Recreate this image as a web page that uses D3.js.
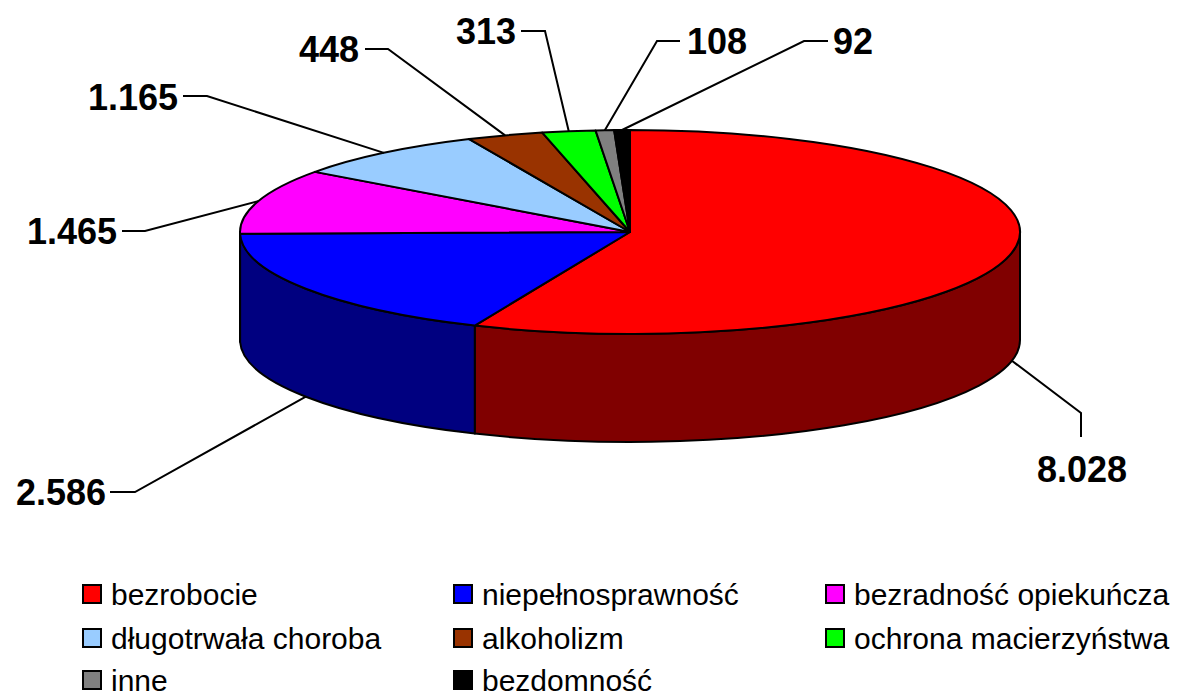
<!DOCTYPE html>
<html>
<head>
<meta charset="utf-8">
<script src="https://cdn.jsdelivr.net/npm/d3@7"></script>
<style>
  body { margin: 0; background: #fff; }
  svg { display: block; }
</style>
</head>
<body>
<svg id="chart" width="1186" height="693"></svg>
<script>
// categories and values
const categories = ["bezrobocie", "niepełnosprawność", "bezradność opiekuńcza", "długotrwała choroba",
  "alkoholizm", "ochrona macierzyństwa", "inne", "bezdomność"];
const values = [8028, 2586, 1465, 1165, 448, 313, 108, 92];
const valueLabels = ["8.028", "2.586", "1.465", "1.165", "448", "313", "108", "92"];
const colors = ["#ff0000", "#0000ff", "#ff00ff", "#99ccff", "#993300", "#00ff00", "#808080", "#000000"];

// pie geometry
const cx = 630, cy = 232, rx = 390, ry = 102, depth = 108;

// where the value labels sit (elbow of leader, end of leader, text anchor)
const labelLayout = [
  { elbow: [1081, 413], end: [1081, 437], text: [1082, 482], anchor: "middle" },
  { elbow: [135, 492], end: [110, 492], text: [106, 505], anchor: "end" },
  { elbow: [145, 231], end: [122, 231], text: [117, 244], anchor: "end" },
  { elbow: [207, 96], end: [183, 96], text: [178, 110], anchor: "end" },
  { elbow: [388, 49], end: [365, 49], text: [359, 62], anchor: "end" },
  { elbow: [545, 31], end: [521, 31], text: [516, 44], anchor: "end" },
  { elbow: [657, 41], end: [680, 41], text: [687, 54], anchor: "start" },
  { elbow: [804, 41], end: [828, 41], text: [833, 54], anchor: "start" }
];

const svg = d3.select("#chart");

const pie = d3.pie().sort(null).value(d => d)(values);

// point on ellipse, angle clockwise from 12 o'clock
function pt(a, dy) {
  return [cx + rx * Math.sin(a), cy - ry * Math.cos(a) + (dy || 0)];
}

// side walls (only front half visible)
const sides = svg.append("g");
pie.forEach((d, i) => {
  const s = Math.max(d.startAngle, Math.PI / 2);
  const e = Math.min(d.endAngle, Math.PI * 1.5);
  if (e <= s) return;
  const p0 = pt(s), p1 = pt(e), q1 = pt(e, depth), q0 = pt(s, depth);
  const path = `M${p0} A${rx},${ry} 0 0 1 ${p1} L${q1} A${rx},${ry} 0 0 0 ${q0} Z`;
  sides.append("path")
    .attr("d", path)
    .attr("fill", d3.interpolateRgb(colors[i], "#000")(0.5))
    .attr("stroke", "#000")
    .attr("stroke-width", 2)
    .attr("stroke-linejoin", "round");
});

// top faces
const tops = svg.append("g");
pie.forEach((d, i) => {
  const p0 = pt(d.startAngle), p1 = pt(d.endAngle);
  const large = (d.endAngle - d.startAngle) > Math.PI ? 1 : 0;
  tops.append("path")
    .attr("d", `M${cx},${cy} L${p0} A${rx},${ry} 0 ${large} 1 ${p1} Z`)
    .attr("fill", colors[i])
    .attr("stroke", "#000")
    .attr("stroke-width", 2)
    .attr("stroke-linejoin", "round");
});

// leader lines and value labels
const labels = svg.append("g");
pie.forEach((d, i) => {
  const mid = (d.startAngle + d.endAngle) / 2;
  const front = mid > Math.PI / 2 && mid < Math.PI * 1.5;
  const start = pt(mid, front ? depth : 0);
  const L = labelLayout[i];
  labels.append("polyline")
    .attr("points", [start, L.elbow, L.end].map(p => p.join(",")).join(" "))
    .attr("fill", "none")
    .attr("stroke", "#000")
    .attr("stroke-width", 2);
  labels.append("text")
    .attr("x", L.text[0])
    .attr("y", L.text[1])
    .attr("text-anchor", L.anchor)
    .style("font-family", "'Liberation Sans', Arial, sans-serif")
    .style("font-weight", "bold")
    .style("font-size", "36px")
    .text(valueLabels[i]);
});

// legend
const legendCols = [83, 454, 826];
const legendRows = [605, 649, 691];
const legend = svg.append("g");
categories.forEach((c, i) => {
  const x = legendCols[i % 3];
  const y = legendRows[Math.floor(i / 3)];
  legend.append("rect")
    .attr("x", x)
    .attr("y", y - 20)
    .attr("width", 18)
    .attr("height", 18)
    .attr("fill", colors[i])
    .attr("stroke", "#000")
    .attr("stroke-width", 2);
  legend.append("text")
    .attr("x", x + 28)
    .attr("y", y)
    .style("font-family", "'Liberation Sans', Arial, sans-serif")
    .style("font-size", "30px")
    .text(c);
});
</script>
</body>
</html>
